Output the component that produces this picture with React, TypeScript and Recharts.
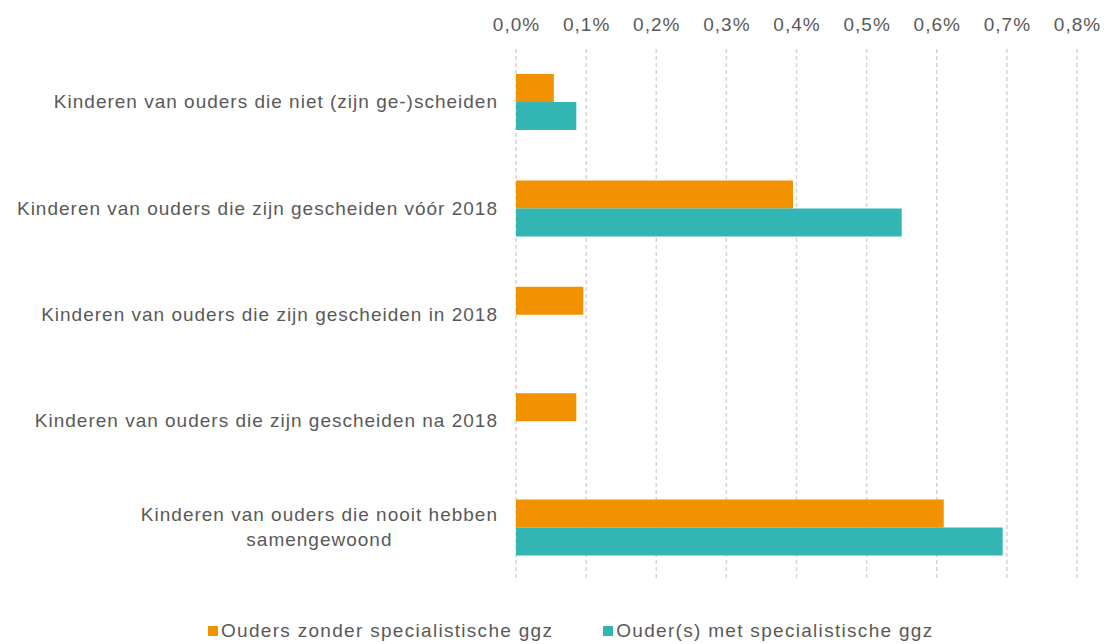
import React from "react";
import { BarChart, Bar, XAxis, YAxis, CartesianGrid, Legend } from "recharts";

const categories = [
  "Kinderen van ouders die niet (zijn ge-)scheiden",
  "Kinderen van ouders die zijn gescheiden vóór 2018",
  "Kinderen van ouders die zijn gescheiden in 2018",
  "Kinderen van ouders die zijn gescheiden na 2018",
  "Kinderen van ouders die nooit hebben\nsamengewoond",
];
const zonderGgz = [0.054, 0.395, 0.096, 0.086, 0.61];
const metGgz: (number | null)[] = [0.086, 0.55, null, null, 0.694];
const xTicks = [0, 0.1, 0.2, 0.3, 0.4, 0.5, 0.6, 0.7, 0.8];
const seriesNames = ["Ouders zonder specialistische ggz", "Ouder(s) met specialistische ggz"];
const colors = ["#F39200", "#33B5B3"];

const data = categories.map((c, i) => ({ name: c, zonder: zonderGgz[i], met: metGgz[i] }));

const FONT = "'Liberation Sans', Arial, sans-serif";
const TEXT = "#595959";
const FS = 19;
const LS = 1;

function measure(text: string) {
  const c = document.createElement("canvas").getContext("2d");
  if (!c) return text.length * 10;
  c.font = `${FS}px ${FONT}`;
  return c.measureText(text).width + text.length * LS;
}

const CatTick = (props: any) => {
  const { x, y, payload } = props;
  const lines = String(payload.value).split("\n");
  const right = x - 10;
  if (lines.length === 1) {
    return (
      <text x={right} y={y} dy={6} textAnchor="end" fontSize={FS} letterSpacing={LS} fontFamily={FONT} fill={TEXT}>
        {lines[0]}
      </text>
    );
  }
  const w = Math.max(...lines.map(measure));
  const cx = right - w / 2;
  const lh = 25;
  const start = y - ((lines.length - 1) * lh) / 2;
  return (
    <text textAnchor="middle" fontSize={FS} letterSpacing={LS} fontFamily={FONT} fill={TEXT}>
      {lines.map((l, i) => (
        <tspan key={i} x={cx} y={start + i * lh} dy={6}>
          {l}
        </tspan>
      ))}
    </text>
  );
};

const fmt = (v: number) => `${v.toFixed(1).replace(".", ",")}%`;

const PctTick = (props: any) => {
  const { x, payload } = props;
  return (
    <text x={x + LS / 2} y={24} dy={7} textAnchor="middle" fontSize={FS} letterSpacing={LS} fontFamily={FONT} fill={TEXT}>
      {fmt(payload.value)}
    </text>
  );
};

const LegendContent = () => (
  <div
    style={{
      display: "flex",
      justifyContent: "flex-start",
      gap: 50,
      fontFamily: FONT,
      fontSize: FS,
      letterSpacing: 1.3,
      color: TEXT,
      paddingLeft: 208,
    }}
  >
    {seriesNames.map((n, i) => (
      <div key={n} style={{ display: "flex", alignItems: "center" }}>
        <span style={{ width: 10, height: 10, background: colors[i], display: "inline-block", marginRight: 3 }} />
        <span>{n}</span>
      </div>
    ))}
  </div>
);

export default function App() {
  return (
    <div style={{ position: "absolute", left: 0, top: 0, background: "#fff" }}>
      <BarChart
        layout="vertical"
        width={1105}
        height={644}
        data={data}
        margin={{ top: 19, right: 28, bottom: 41, left: 0 }}
        barGap={0}
        barSize={28}
      >
        <CartesianGrid horizontal={false} vertical stroke="#D4D4D4" strokeWidth={1.5} strokeDasharray="4 3" />
        <XAxis
          type="number"
          orientation="top"
          domain={[0, 0.8]}
          ticks={xTicks}
          height={30}
          axisLine={false}
          tickLine={false}
          interval={0}
          tick={<PctTick />}
        />
        <YAxis
          type="category"
          dataKey="name"
          width={516}
          axisLine={false}
          tickLine={false}
          interval={0}
          tick={<CatTick />}
        />
        <Legend verticalAlign="bottom" content={<LegendContent />} wrapperStyle={{ bottom: 2, left: 0, width: 1105 }} />
        <Bar dataKey="zonder" name={seriesNames[0]} fill={colors[0]} isAnimationActive={false} />
        <Bar dataKey="met" name={seriesNames[1]} fill={colors[1]} isAnimationActive={false} />
      </BarChart>
    </div>
  );
}
